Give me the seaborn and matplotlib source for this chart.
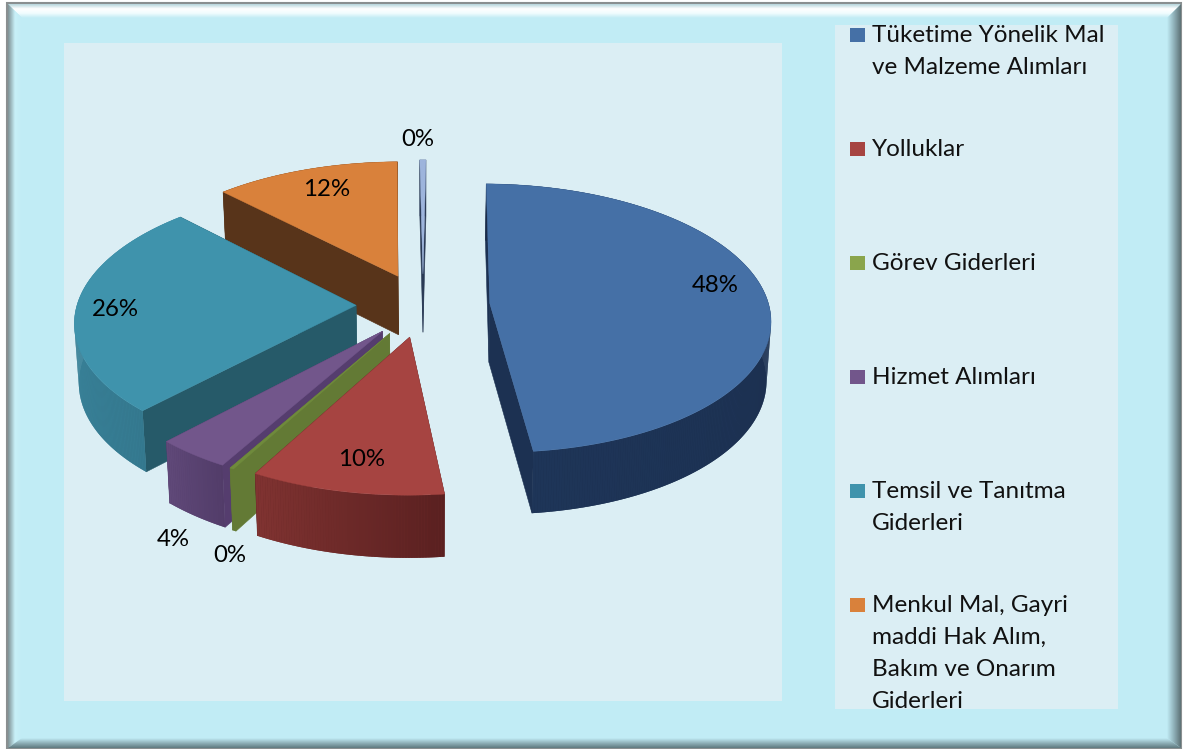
import numpy as np
import pandas as pd
import matplotlib
matplotlib.use("Agg")
import matplotlib.pyplot as plt
import seaborn as sns
from matplotlib.colors import LinearSegmentedColormap, to_rgb
from matplotlib.patches import Polygon, Rectangle

# ======= data =======
legend_names = ["Tüketime Yönelik Mal\nve Malzeme Alımları", "Yolluklar", "Görev Giderleri",
                "Hizmet Alımları", "Temsil ve Tanıtma\nGiderleri",
                "Menkul Mal, Gayri\nmaddi Hak Alım,\nBakım ve Onarım\nGiderleri"]
values = [48.0, 9.8, 0.2, 3.8, 25.7, 12.1, 0.4]
pct_labels = ["48%", "10%", "0%", "4%", "26%", "12%", "0%"]

# ======= style =======
legend_colors = ["#4570a6", "#a64441", "#8aa54c", "#72568b", "#3f93ac", "#d9813b"]
top_colors = ["#4570a6", "#a64441", "#6f8a3c", "#72568b", "#3f93ac", "#d9813b", "#9db4dc"]
cut_colors = ["#1c3152", "#5a2020", "#637a35", "#553d6e", "#265a69", "#58341a", "#2a3a55"]
rim_colors = [("#1a2b48", "#1e3558"), ("#5a2020", "#803331"), ("#637a35", "#637a35"),
              ("#523c69", "#604979"), ("#34788e", "#3f8da5"), ("#58341a", "#58341a"),
              ("#2a3a55", "#2a3a55")]
label_xy = [(715, 285), (362, 459), (230, 556), (173, 540), (115, 309), (327, 189), (418, 139)]
paint_order = [6, 5, 0, 4, 3, 2, 1]

START = 0.7
EXPLODE = 0.24
CX, CY, RX, RY, K, DEPTH = 423, 305, 279, 133, 0.11, 59

BG = "#c1ecf5"
PANEL = "#dbeef4"

sns.set_theme(style="white")
plt.rcParams["font.family"] = ["Lato", "DejaVu Sans"]

fig = plt.figure(figsize=(11.83, 7.49), dpi=100, facecolor="white")
ax = fig.add_axes([0, 0, 1, 1])


def project(u, v, z=0.0):
    f = 1 / (1 + K * v)
    d = DEPTH * (1 + 0.4 * (f - 1))
    return (CX + RX * u * f * (1 - 0.013 * z), CY - RY * v * f + d * z)


def band(poly, stops, extent, vertical=False):
    cmap = LinearSegmentedColormap.from_list("b", stops)
    grad = np.linspace(0, 1, 64).reshape(-1, 1) if vertical else np.linspace(0, 1, 64).reshape(1, -1)
    im = ax.imshow(grad, cmap=cmap, extent=extent, aspect="auto", origin="upper", zorder=1)
    patch = Polygon(poly, closed=True, transform=ax.transData, fc="none", ec="none")
    ax.add_patch(patch)
    im.set_clip_path(patch)


# ======= frame =======
ax.add_patch(Rectangle((7, 3), 1174, 745, fc=BG, ec="#8a8f90", lw=1.5, zorder=0))
L, T, R, B = 8, 4, 1181, 748
il, it, ir, ib = 22, 18, 1167, 738
band([(L, T), (R, T), (ir, it), (il, it)], ["#b6d5db", "#ffffff", "#f0fcfe", BG], (L, R, it, T), vertical=True)
band([(L, T), (il, it), (il, ib), (L, B)], ["#7f9194", "#c8f0f8", BG], (L, il, B, T))
band([(R, T), (ir, it), (ir, ib), (R, B)], [BG, "#8fb0b8", "#5e7276"], (ir, R, B, T))
band([(L, B), (il, ib), (ir, ib), (R, B)], [BG, "#8fb0b8", "#5f7a80"], (L, R, B, ib), vertical=True)

ax.add_patch(Rectangle((64, 43), 718, 658, fc=PANEL, ec="none", zorder=2))
legend_box = Rectangle((835, 25), 283, 684, fc=PANEL, ec="none", zorder=2)
ax.add_patch(legend_box)

# ======= exploded 3d pie =======
shares = np.array(values) / np.sum(values) * 360
starts = START + np.concatenate([[0], np.cumsum(shares)[:-1]])

for i in paint_order:
    a0, a1 = np.radians(starts[i]), np.radians(starts[i] + shares[i])
    mid = (a0 + a1) / 2
    au, av = EXPLODE * np.sin(mid), EXPLODE * np.cos(mid)
    angles = np.linspace(a0, a1, max(int(shares[i] * 2), 4))
    us, vs = au + np.sin(angles), av + np.cos(angles)
    z = 3 + paint_order.index(i) * 0.1

    # cut faces
    for end in (0, -1):
        face = [project(au, av), project(us[end], vs[end]), project(us[end], vs[end], 1), project(au, av, 1)]
        ax.add_patch(Polygon(face, fc=cut_colors[i], ec=cut_colors[i], lw=0.4, zorder=z))

    # outer rim: one base shape so no seams show, then shaded along the arc
    c0, c1 = np.array(to_rgb(rim_colors[i][0])), np.array(to_rgb(rim_colors[i][1]))
    base = [project(a, b) for a, b in zip(us, vs)] + [project(a, b, 1) for a, b in zip(us[::-1], vs[::-1])]
    ax.add_patch(Polygon(base, fc=(c0 + c1) / 2, ec="none", zorder=z + 0.005))
    for j in range(len(angles) - 1):
        col = c0 + (c1 - c0) * j / max(len(angles) - 2, 1)
        quad = [project(us[j], vs[j]), project(us[j + 1], vs[j + 1]),
                project(us[j + 1], vs[j + 1], 1), project(us[j], vs[j], 1)]
        ax.add_patch(Polygon(quad, fc=col, ec="none", zorder=z + 0.01))

    # top face
    top = [project(au, av)] + [project(a, b) for a, b in zip(us, vs)]
    ax.add_patch(Polygon(top, fc=top_colors[i], ec=top_colors[i], lw=0.3, zorder=z + 0.02))

for txt, (x, y) in zip(pct_labels, label_xy):
    ax.text(x, y, txt, fontsize=17.3, color="black", ha="center", va="center", zorder=6)

# ======= legend =======
n = len(legend_names)
marker_df = pd.DataFrame({"x": [857.5] * n, "y": [35 + 114 * k for k in range(n)], "name": legend_names})
sns.scatterplot(data=marker_df, x="x", y="y", hue="name", palette=legend_colors, marker="s", s=112,
                linewidth=0, legend=False, ax=ax, zorder=5)

for k, name in enumerate(legend_names):
    for m, line in enumerate(name.split("\n")):
        t = ax.text(872, 35 + 114 * k + 32 * m, line, fontsize=17.5, color="#111111",
                    ha="left", va="center", zorder=6)
        t.set_clip_path(legend_box)

ax.set_xlim(0, 1183)
ax.set_ylim(749, 0)
ax.axis("off")
fig.savefig("out.png", dpi=100, facecolor="white")
